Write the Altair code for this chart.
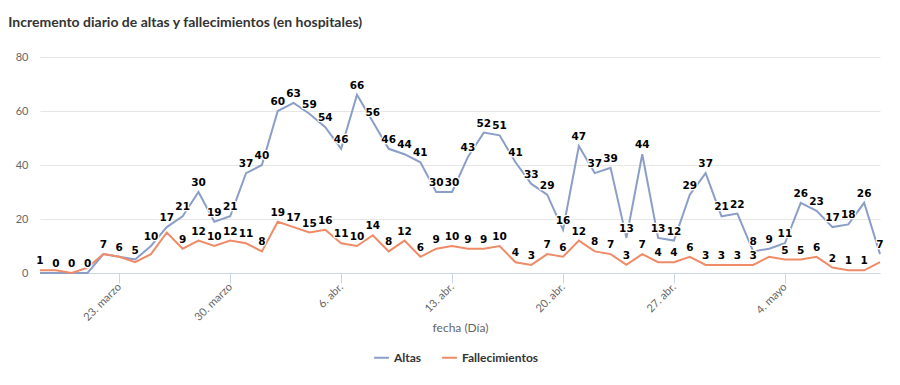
import altair as alt
import pandas as pd

start_date = "2020-03-18"
series_names = ["Altas", "Fallecimientos"]
altas = [0, 0, 0, 0, 7, 6, 5, 10, 17, 21, 30, 19, 21, 37, 40, 60, 63, 59, 54, 46,
         66, 56, 46, 44, 41, 30, 30, 43, 52, 51, 41, 33, 29, 16, 47, 37, 39, 13, 44, 13,
         12, 29, 37, 21, 22, 8, 9, 11, 26, 23, 17, 18, 26, 7]
fallecimientos = [1, 1, 0, 2, 7, 6, 4, 7, 15, 9, 12, 10, 12, 11, 8, 19, 17, 15, 16, 11,
                  10, 14, 8, 12, 6, 9, 10, 9, 9, 10, 4, 3, 7, 6, 12, 8, 7, 3, 7, 4,
                  4, 6, 3, 3, 3, 3, 6, 5, 5, 6, 2, 1, 1, 4]
# indices of data labels hidden in the original (overlap removal)
altas_hidden = [0]
fallecimientos_hidden = [1, 2, 3, 4, 5, 6, 7, 8, 46, 53]

tick_dates = ["2020-03-23", "2020-03-30", "2020-04-06", "2020-04-13",
              "2020-04-20", "2020-04-27", "2020-05-04"]
tick_labels = ["23. marzo", "30. marzo", "6. abr.", "13. abr.",
               "20. abr.", "27. abr.", "4. mayo"]
y_ticks = [0, 20, 40, 60, 80]
colors = ["#8b9ec8", "#ef8b66"]

dates = pd.date_range(start_date, periods=len(altas))
rows = []
for name, vals, hidden in [("Altas", altas, altas_hidden),
                           ("Fallecimientos", fallecimientos, fallecimientos_hidden)]:
    for i, (d, v) in enumerate(zip(dates, vals)):
        rows.append({"fecha": d.strftime("%Y-%m-%dT00:00:00"), "serie": name,
                     "valor": v, "mostrar": i not in hidden})
df = pd.DataFrame(rows)


def dt(s):
    y, m, d = (int(p) for p in s.split("-"))
    return alt.DateTime(year=y, month=m, date=d)


label_expr = "[" + ",".join(f"'{l}'" for l in tick_labels) + "][indexof([" + \
    ",".join(f"'{t}'" for t in tick_dates) + "], timeFormat(datum.value, '%Y-%m-%d'))]"

x_enc = alt.X("fecha:T",
              scale=alt.Scale(domain=[dt(dates[0].strftime("%Y-%m-%d")),
                                      dt(dates[-1].strftime("%Y-%m-%d"))]),
              axis=alt.Axis(values=[dt(t) for t in tick_dates], labelExpr=label_expr,
                            labelAngle=-45, labelAlign="right", labelBaseline="middle",
                            labelColor="#666666", labelFont="Lato", labelFontSize=11,
                            labelPadding=2,
                            domainColor="#ccd6eb", tickColor="#ccd6eb", tickSize=10,
                            grid=False, title="fecha (Día)", titleFont="Lato",
                            titleFontSize=12, titleFontWeight="normal",
                            titleColor="#666666", titlePadding=0))
y_enc = alt.Y("valor:Q", scale=alt.Scale(domain=[0, 80]),
              axis=alt.Axis(values=y_ticks, domain=False, ticks=False, grid=True,
                            gridColor="#e6e6e6", labelColor="#666666",
                            labelFont="Lato", labelFontSize=11, labelPadding=12,
                            title=None))

base = alt.Chart(df).encode(x=x_enc, y=y_enc)

lines = base.mark_line(strokeWidth=2).encode(
    color=alt.Color("serie:N", scale=alt.Scale(domain=series_names, range=colors),
                    legend=alt.Legend(orient="none", legendX=333, legendY=292,
                                      direction="horizontal", title=None,
                                      symbolType="stroke", symbolSize=220,
                                      symbolStrokeWidth=2, labelFont="Lato",
                                      labelFontSize=12, labelFontWeight="bold",
                                      labelColor="#333333", columnPadding=16)),
    order=alt.Order("fecha:T"))

labels_src = base.transform_filter("datum.mostrar").encode(
    text=alt.Text("valor:Q"))
halo = labels_src.mark_text(dy=-6, baseline="alphabetic", font="DejaVu Sans",
                            fontSize=10.5, fontWeight="bold", fill="white",
                            stroke="white", strokeWidth=2.5, strokeJoin="round")
texts = labels_src.mark_text(dy=-6, baseline="alphabetic", font="DejaVu Sans",
                             fontSize=10.5, fontWeight="bold", fill="#000000")

chart = alt.layer(lines, halo, texts).properties(
    width=840, height=216,
    autosize=alt.AutoSizeParams(type="none"),
    padding={"left": 32, "top": 49, "right": 12, "bottom": 112},
    title=alt.TitleParams("Incremento diario de altas y fallecimientos (en hospitales)",
                          anchor="start", dx=-7, font="Lato", fontSize=14,
                          fontWeight="bold", color="#333333", offset=21),
    background="white",
).configure_view(stroke=None)

chart.save("out.html", embed_options={"renderer": "svg", "actions": False})
